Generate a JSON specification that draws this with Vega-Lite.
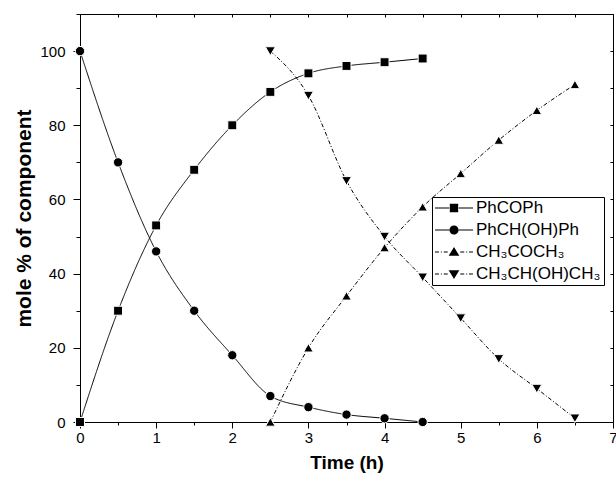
{
  "$schema": "https://vega.github.io/schema/vega-lite/v6.json",
  "width": 533,
  "height": 408,
  "autosize": "none",
  "padding": {"left": 80, "top": 14, "right": 3, "bottom": 55},
  "config": {
    "view": {"stroke": null},
    "font": "Liberation Sans",
    "axis": {"domainColor": "black", "tickColor": "black", "labelColor": "black", "titleColor": "black", "grid": false, "labelFont": "Liberation Sans", "titleFont": "Liberation Sans", "labelFontSize": 15, "titleFontSize": 19, "titleFontWeight": "bold", "domainWidth": 1, "tickWidth": 1}
  },
  "datasets": {
    "d": [
      {"s": "PhCOPh", "t": 0, "v": 0},
      {"s": "PhCOPh", "t": 0.5, "v": 30},
      {"s": "PhCOPh", "t": 1, "v": 53},
      {"s": "PhCOPh", "t": 1.5, "v": 68},
      {"s": "PhCOPh", "t": 2, "v": 80},
      {"s": "PhCOPh", "t": 2.5, "v": 89},
      {"s": "PhCOPh", "t": 3, "v": 94},
      {"s": "PhCOPh", "t": 3.5, "v": 96},
      {"s": "PhCOPh", "t": 4, "v": 97},
      {"s": "PhCOPh", "t": 4.5, "v": 98},
      {"s": "PhCH(OH)Ph", "t": 0, "v": 100},
      {"s": "PhCH(OH)Ph", "t": 0.5, "v": 70},
      {"s": "PhCH(OH)Ph", "t": 1, "v": 46},
      {"s": "PhCH(OH)Ph", "t": 1.5, "v": 30},
      {"s": "PhCH(OH)Ph", "t": 2, "v": 18},
      {"s": "PhCH(OH)Ph", "t": 2.5, "v": 7},
      {"s": "PhCH(OH)Ph", "t": 3, "v": 4},
      {"s": "PhCH(OH)Ph", "t": 3.5, "v": 2},
      {"s": "PhCH(OH)Ph", "t": 4, "v": 1},
      {"s": "PhCH(OH)Ph", "t": 4.5, "v": 0},
      {"s": "CH₃COCH₃", "t": 2.5, "v": 0},
      {"s": "CH₃COCH₃", "t": 3, "v": 20},
      {"s": "CH₃COCH₃", "t": 3.5, "v": 34},
      {"s": "CH₃COCH₃", "t": 4, "v": 47},
      {"s": "CH₃COCH₃", "t": 4.5, "v": 58},
      {"s": "CH₃COCH₃", "t": 5, "v": 67},
      {"s": "CH₃COCH₃", "t": 5.5, "v": 76},
      {"s": "CH₃COCH₃", "t": 6, "v": 84},
      {"s": "CH₃COCH₃", "t": 6.5, "v": 91},
      {"s": "CH₃CH(OH)CH₃", "t": 2.5, "v": 100},
      {"s": "CH₃CH(OH)CH₃", "t": 3, "v": 88},
      {"s": "CH₃CH(OH)CH₃", "t": 3.5, "v": 65},
      {"s": "CH₃CH(OH)CH₃", "t": 4, "v": 50},
      {"s": "CH₃CH(OH)CH₃", "t": 4.5, "v": 39},
      {"s": "CH₃CH(OH)CH₃", "t": 5, "v": 28},
      {"s": "CH₃CH(OH)CH₃", "t": 5.5, "v": 17},
      {"s": "CH₃CH(OH)CH₃", "t": 6, "v": 9},
      {"s": "CH₃CH(OH)CH₃", "t": 6.5, "v": 1}
    ]
  },
  "data": {"name": "d"},
  "layer": [
    {
      "encoding": {
        "x": {"field": "t", "type": "quantitative", "scale": {"domain": [0, 7], "nice": false, "zero": false},
          "axis": {"orient": "bottom", "title": "Time (h)", "titleFontSize": 19, "values": [0, 0.5, 1, 1.5, 2, 2.5, 3, 3.5, 4, 4.5, 5, 5.5, 6, 6.5, 7],
            "labelExpr": "datum.value % 1 === 0 ? format(datum.value, 'd') : ''", "tickSize": {"condition": {"test": "datum.value % 1 !== 0", "value": 3}, "value": 6},
            "labelPadding": 2, "titlePadding": 8, "labelFlush": false}},
        "y": {"field": "v", "type": "quantitative", "scale": {"domain": [0, 110], "nice": false},
          "axis": {"orient": "left", "title": "mole % of component", "titleFontSize": 21, "values": [0, 10, 20, 30, 40, 50, 60, 70, 80, 90, 100, 110],
            "labelExpr": "datum.value % 20 === 0 && datum.value <= 100 ? format(datum.value, 'd') : ''", "tickSize": {"condition": {"test": "datum.value % 20 !== 0", "value": 4}, "value": 7},
            "labelPadding": 8, "titlePadding": 5, "labelFlush": false}}
      },
      "layer": [
        {
          "mark": {"type": "line", "interpolate": "monotone", "color": "black", "strokeWidth": 1},
          "encoding": {
            "detail": {"field": "s"},
            "strokeDash": {"field": "s", "type": "nominal", "legend": null,
              "scale": {"domain": ["PhCOPh", "PhCH(OH)Ph", "CH₃COCH₃", "CH₃CH(OH)CH₃"], "range": [[1, 0], [1, 0], [4, 2, 1, 2], [4, 2, 1, 2]]}}
          }
        },
        {
          "mark": {"type": "point", "filled": true, "fill": "black", "stroke": "white", "strokeWidth": 1, "opacity": 1},
          "encoding": {
            "shape": {"field": "s", "type": "nominal", "legend": null,
              "scale": {"domain": ["PhCOPh", "PhCH(OH)Ph", "CH₃COCH₃", "CH₃CH(OH)CH₃"], "range": ["square", "circle", "triangle-up", "triangle-down"]}},
            "size": {"field": "s", "type": "nominal", "legend": null,
              "scale": {"domain": ["PhCOPh", "PhCH(OH)Ph", "CH₃COCH₃", "CH₃CH(OH)CH₃"], "range": [80, 100, 130, 130]}}
          }
        },
        {
          "mark": {"type": "point", "filled": true, "color": "black", "opacity": 0},
          "encoding": {
            "shape": {"field": "s", "type": "nominal",
              "scale": {"domain": ["PhCOPh", "PhCH(OH)Ph", "CH₃COCH₃", "CH₃CH(OH)CH₃"], "range": [
                "M-1,-0.03H-0.25V0.03H-1Z M0.25,-0.03H1V0.03H0.25Z M-0.22,-0.22H0.22V0.22H-0.22Z",
                "M-1,-0.03H-0.25V0.03H-1Z M0.25,-0.03H1V0.03H0.25Z M-0.24,0A0.24,0.24,0,1,0,0.24,0A0.24,0.24,0,1,0,-0.24,0Z",
                "M-1,-0.03H-0.79V0.03H-1Z M-0.69,-0.03H-0.64V0.03H-0.69Z M-0.54,-0.03H-0.33V0.03H-0.54Z M0.33,-0.03H0.54V0.03H0.33Z M0.64,-0.03H0.69V0.03H0.64Z M0.79,-0.03H1V0.03H0.79Z M0,-0.26L0.28,0.2L-0.28,0.2Z",
                "M-1,-0.03H-0.79V0.03H-1Z M-0.69,-0.03H-0.64V0.03H-0.69Z M-0.54,-0.03H-0.33V0.03H-0.54Z M0.33,-0.03H0.54V0.03H0.33Z M0.64,-0.03H0.69V0.03H0.64Z M0.79,-0.03H1V0.03H0.79Z M0,0.26L0.28,-0.2L-0.28,-0.2Z"
              ]},
              "legend": {"title": null, "orient": "none", "legendX": 352, "legendY": 183, "padding": 3, "strokeColor": "black", "fillColor": "white",
                "clipHeight": 16, "rowPadding": 5, "labelFontSize": 17, "labelFont": "Liberation Sans", "labelColor": "black", "labelOffset": 3,
                "symbolSize": 1444, "symbolOpacity": 1, "symbolFillColor": "black", "symbolStrokeWidth": 0}
            }
          }
        }
      ],
      "resolve": {"scale": {"shape": "independent"}}
    },
    {
      "mark": {"type": "point", "opacity": 0},
      "encoding": {
        "x": {"field": "t", "type": "quantitative", "scale": {"domain": [0, 7], "nice": false, "zero": false},
          "axis": {"orient": "top", "title": null, "labels": false, "values": [0, 0.5, 1, 1.5, 2, 2.5, 3, 3.5, 4, 4.5, 5, 5.5, 6, 6.5, 7], "tickSize": -3}},
        "y": {"field": "v", "type": "quantitative", "scale": {"domain": [0, 110], "nice": false},
          "axis": {"orient": "right", "title": null, "labels": false, "values": [0, 10, 20, 30, 40, 50, 60, 70, 80, 90, 100, 110], "tickSize": -3}}
      }
    }
  ],
  "resolve": {"axis": {"x": "independent", "y": "independent"}}
}
